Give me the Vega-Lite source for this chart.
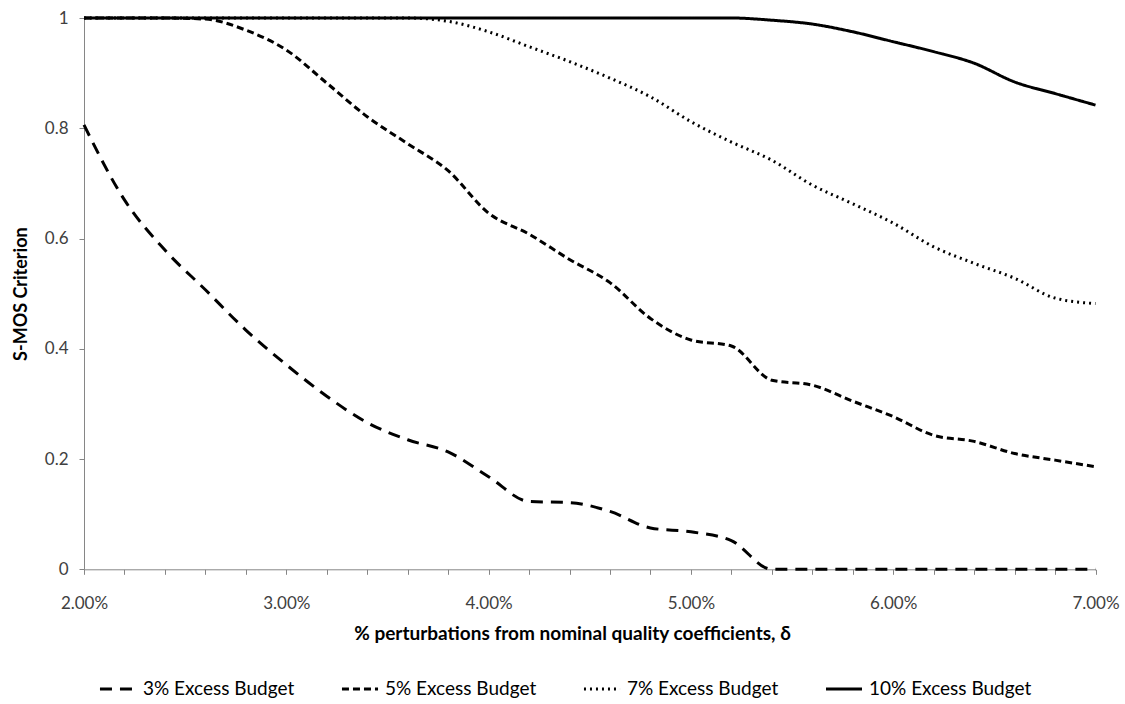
{
  "$schema": "https://vega.github.io/schema/vega-lite/v6.json",
  "width": 1011.5,
  "height": 551.3,
  "autosize": {"type": "none"},
  "padding": {"left": 84, "top": 18, "right": 29.5, "bottom": 134.7},
  "background": "white",
  "config": {
    "view": {"stroke": null},
    "font": "Lato",
    "axis": {"grid": false, "domainColor": "#868686", "tickColor": "#868686", "labelColor": "#404040", "titleColor": "#000000", "labelFont": "Lato", "titleFont": "Lato"}
  },
  "data": {
    "values": [
      {"x": 2.0, "series": "3% Excess Budget", "y": 0.806},
      {"x": 2.2, "series": "3% Excess Budget", "y": 0.670},
      {"x": 2.4, "series": "3% Excess Budget", "y": 0.579},
      {"x": 2.6, "series": "3% Excess Budget", "y": 0.507},
      {"x": 2.8, "series": "3% Excess Budget", "y": 0.434},
      {"x": 3.0, "series": "3% Excess Budget", "y": 0.371},
      {"x": 3.2, "series": "3% Excess Budget", "y": 0.314},
      {"x": 3.4, "series": "3% Excess Budget", "y": 0.266},
      {"x": 3.6, "series": "3% Excess Budget", "y": 0.235},
      {"x": 3.8, "series": "3% Excess Budget", "y": 0.213},
      {"x": 4.0, "series": "3% Excess Budget", "y": 0.168},
      {"x": 4.2, "series": "3% Excess Budget", "y": 0.123},
      {"x": 4.4, "series": "3% Excess Budget", "y": 0.121},
      {"x": 4.6, "series": "3% Excess Budget", "y": 0.105},
      {"x": 4.8, "series": "3% Excess Budget", "y": 0.075},
      {"x": 5.0, "series": "3% Excess Budget", "y": 0.068},
      {"x": 5.2, "series": "3% Excess Budget", "y": 0.052},
      {"x": 5.4, "series": "3% Excess Budget", "y": 0.0},
      {"x": 5.6, "series": "3% Excess Budget", "y": 0.0},
      {"x": 5.8, "series": "3% Excess Budget", "y": 0.0},
      {"x": 6.0, "series": "3% Excess Budget", "y": 0.0},
      {"x": 6.2, "series": "3% Excess Budget", "y": 0.0},
      {"x": 6.4, "series": "3% Excess Budget", "y": 0.0},
      {"x": 6.6, "series": "3% Excess Budget", "y": 0.0},
      {"x": 6.8, "series": "3% Excess Budget", "y": 0.0},
      {"x": 7.0, "series": "3% Excess Budget", "y": 0.0},
      {"x": 2.0, "series": "5% Excess Budget", "y": 1.0},
      {"x": 2.2, "series": "5% Excess Budget", "y": 1.0},
      {"x": 2.4, "series": "5% Excess Budget", "y": 1.0},
      {"x": 2.6, "series": "5% Excess Budget", "y": 0.998},
      {"x": 2.8, "series": "5% Excess Budget", "y": 0.978},
      {"x": 3.0, "series": "5% Excess Budget", "y": 0.942},
      {"x": 3.2, "series": "5% Excess Budget", "y": 0.882},
      {"x": 3.4, "series": "5% Excess Budget", "y": 0.821},
      {"x": 3.6, "series": "5% Excess Budget", "y": 0.772},
      {"x": 3.8, "series": "5% Excess Budget", "y": 0.723},
      {"x": 4.0, "series": "5% Excess Budget", "y": 0.646},
      {"x": 4.2, "series": "5% Excess Budget", "y": 0.608},
      {"x": 4.4, "series": "5% Excess Budget", "y": 0.562},
      {"x": 4.6, "series": "5% Excess Budget", "y": 0.520},
      {"x": 4.8, "series": "5% Excess Budget", "y": 0.455},
      {"x": 5.0, "series": "5% Excess Budget", "y": 0.416},
      {"x": 5.2, "series": "5% Excess Budget", "y": 0.405},
      {"x": 5.4, "series": "5% Excess Budget", "y": 0.343},
      {"x": 5.6, "series": "5% Excess Budget", "y": 0.334},
      {"x": 5.8, "series": "5% Excess Budget", "y": 0.305},
      {"x": 6.0, "series": "5% Excess Budget", "y": 0.277},
      {"x": 6.2, "series": "5% Excess Budget", "y": 0.243},
      {"x": 6.4, "series": "5% Excess Budget", "y": 0.232},
      {"x": 6.6, "series": "5% Excess Budget", "y": 0.210},
      {"x": 6.8, "series": "5% Excess Budget", "y": 0.198},
      {"x": 7.0, "series": "5% Excess Budget", "y": 0.186},
      {"x": 2.0, "series": "7% Excess Budget", "y": 1.0},
      {"x": 2.2, "series": "7% Excess Budget", "y": 1.0},
      {"x": 2.4, "series": "7% Excess Budget", "y": 1.0},
      {"x": 2.6, "series": "7% Excess Budget", "y": 1.0},
      {"x": 2.8, "series": "7% Excess Budget", "y": 1.0},
      {"x": 3.0, "series": "7% Excess Budget", "y": 1.0},
      {"x": 3.2, "series": "7% Excess Budget", "y": 1.0},
      {"x": 3.4, "series": "7% Excess Budget", "y": 1.0},
      {"x": 3.6, "series": "7% Excess Budget", "y": 1.0},
      {"x": 3.8, "series": "7% Excess Budget", "y": 0.994},
      {"x": 4.0, "series": "7% Excess Budget", "y": 0.975},
      {"x": 4.2, "series": "7% Excess Budget", "y": 0.948},
      {"x": 4.4, "series": "7% Excess Budget", "y": 0.921},
      {"x": 4.6, "series": "7% Excess Budget", "y": 0.891},
      {"x": 4.8, "series": "7% Excess Budget", "y": 0.857},
      {"x": 5.0, "series": "7% Excess Budget", "y": 0.812},
      {"x": 5.2, "series": "7% Excess Budget", "y": 0.775},
      {"x": 5.4, "series": "7% Excess Budget", "y": 0.742},
      {"x": 5.6, "series": "7% Excess Budget", "y": 0.697},
      {"x": 5.8, "series": "7% Excess Budget", "y": 0.663},
      {"x": 6.0, "series": "7% Excess Budget", "y": 0.628},
      {"x": 6.2, "series": "7% Excess Budget", "y": 0.585},
      {"x": 6.4, "series": "7% Excess Budget", "y": 0.555},
      {"x": 6.6, "series": "7% Excess Budget", "y": 0.528},
      {"x": 6.8, "series": "7% Excess Budget", "y": 0.492},
      {"x": 7.0, "series": "7% Excess Budget", "y": 0.482},
      {"x": 2.0, "series": "10% Excess Budget", "y": 1.0},
      {"x": 2.2, "series": "10% Excess Budget", "y": 1.0},
      {"x": 2.4, "series": "10% Excess Budget", "y": 1.0},
      {"x": 2.6, "series": "10% Excess Budget", "y": 1.0},
      {"x": 2.8, "series": "10% Excess Budget", "y": 1.0},
      {"x": 3.0, "series": "10% Excess Budget", "y": 1.0},
      {"x": 3.2, "series": "10% Excess Budget", "y": 1.0},
      {"x": 3.4, "series": "10% Excess Budget", "y": 1.0},
      {"x": 3.6, "series": "10% Excess Budget", "y": 1.0},
      {"x": 3.8, "series": "10% Excess Budget", "y": 1.0},
      {"x": 4.0, "series": "10% Excess Budget", "y": 1.0},
      {"x": 4.2, "series": "10% Excess Budget", "y": 1.0},
      {"x": 4.4, "series": "10% Excess Budget", "y": 1.0},
      {"x": 4.6, "series": "10% Excess Budget", "y": 1.0},
      {"x": 4.8, "series": "10% Excess Budget", "y": 1.0},
      {"x": 5.0, "series": "10% Excess Budget", "y": 1.0},
      {"x": 5.2, "series": "10% Excess Budget", "y": 1.0},
      {"x": 5.4, "series": "10% Excess Budget", "y": 0.996},
      {"x": 5.6, "series": "10% Excess Budget", "y": 0.989},
      {"x": 5.8, "series": "10% Excess Budget", "y": 0.975},
      {"x": 6.0, "series": "10% Excess Budget", "y": 0.957},
      {"x": 6.2, "series": "10% Excess Budget", "y": 0.939},
      {"x": 6.4, "series": "10% Excess Budget", "y": 0.918},
      {"x": 6.6, "series": "10% Excess Budget", "y": 0.884},
      {"x": 6.8, "series": "10% Excess Budget", "y": 0.863},
      {"x": 7.0, "series": "10% Excess Budget", "y": 0.842}
    ]
  },
  "mark": {"type": "line", "interpolate": "monotone", "color": "black", "strokeWidth": 3, "strokeCap": "butt"},
  "encoding": {
    "x": {
      "field": "x", "type": "quantitative",
      "scale": {"domain": [2, 7], "nice": false, "zero": false},
      "axis": {
        "values": [2, 2.2, 2.4, 2.6, 2.8, 3, 3.2, 3.4, 3.6, 3.8, 4, 4.2, 4.4, 4.6, 4.8, 5, 5.2, 5.4, 5.6, 5.8, 6, 6.2, 6.4, 6.6, 6.8, 7],
        "labelExpr": "datum.value % 1 == 0 ? format(datum.value, '.2f') + '%' : ''",
        "labelFontSize": 17, "labelPadding": 21, "tickSize": 5, "labelOverlap": false, "labelFlush": false,
        "title": "% perturbations from nominal quality coefficients, δ",
        "titleFontSize": 19, "titleFontWeight": "bold", "titlePadding": 13, "titleX": 488, "titleAnchor": "middle"
      }
    },
    "y": {
      "field": "y", "type": "quantitative",
      "scale": {"domain": [0, 1], "nice": false},
      "axis": {
        "values": [0, 0.2, 0.4, 0.6, 0.8, 1],
        "format": ".1~f",
        "labelFontSize": 17, "labelPadding": 11, "tickSize": 5,
        "title": "S-MOS Criterion",
        "titleFontSize": 18, "titleFontWeight": "bold", "titlePadding": 14
      }
    },
    "strokeDash": {
      "field": "series", "type": "nominal",
      "scale": {
        "domain": ["3% Excess Budget", "5% Excess Budget", "7% Excess Budget", "10% Excess Budget"],
        "range": [[12, 8], [7, 4], [2, 4], [1, 0]]
      },
      "legend": {
        "title": null, "orient": "none", "direction": "horizontal",
        "legendX": 14, "legendY": 651,
        "labelFontSize": 19, "labelColor": "#000000", "labelFont": "Lato", "labelLimit": 400,
        "symbolType": "stroke", "symbolSize": 1300, "symbolStrokeWidth": 3, "symbolStrokeColor": "black",
        "columnPadding": 40, "labelOffset": 5
      }
    }
  }
}
